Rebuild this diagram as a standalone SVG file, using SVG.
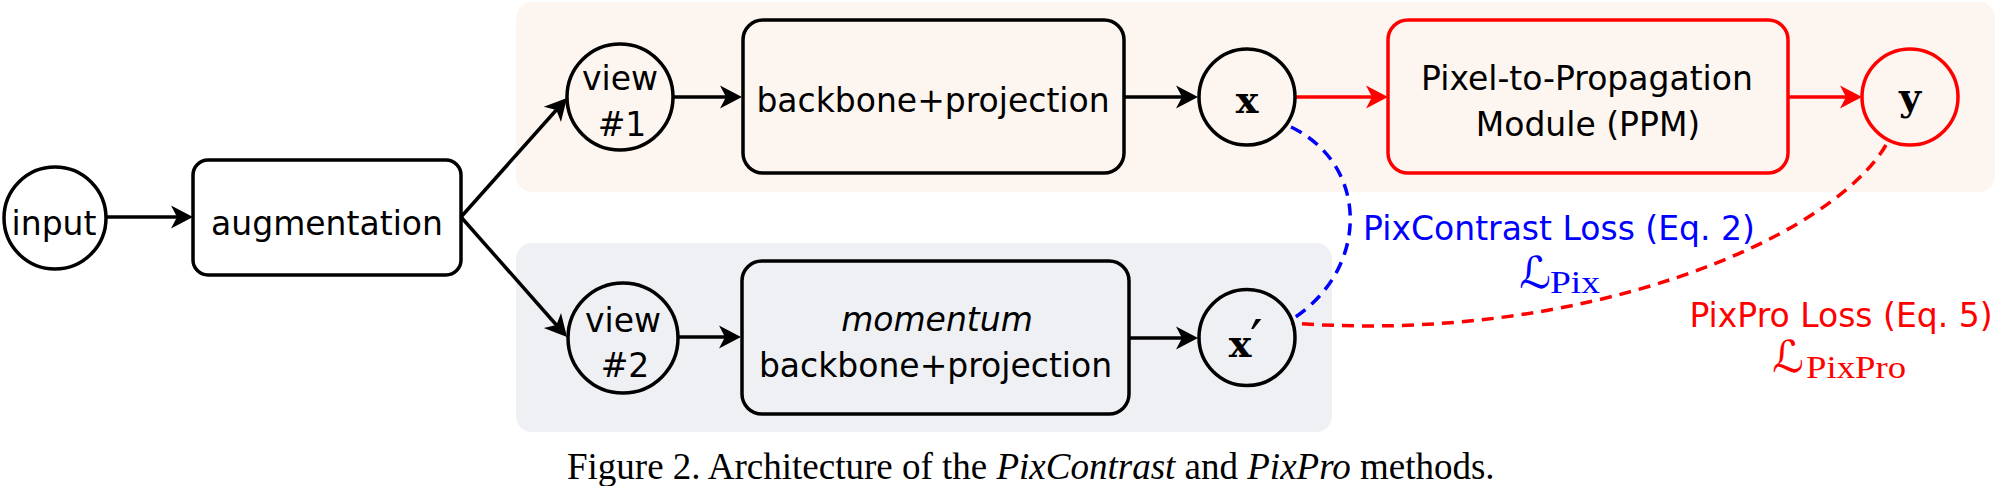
<svg xmlns="http://www.w3.org/2000/svg" width="2000" height="486" viewBox="0 0 2000 486">
<style>
.band-top{fill:#FDF5EF}
.band-bot{fill:#EFF0F4}
.nd{fill:none;stroke:#000;stroke-width:3.5}
.rd{stroke:#FF0000}
.lbl{font-family:"DejaVu Sans",sans-serif;font-size:33px;text-anchor:middle;fill:#000}
.math{font-family:"DejaVu Serif",serif;font-weight:bold;font-size:38px;text-anchor:middle;fill:#000}
.conn{fill:none;stroke:#000;stroke-width:3.5}
.cr{stroke:#FF0000}
.dash{fill:none;stroke-width:3.5;stroke-dasharray:12 8}
.cap{font-family:"Liberation Serif",serif;font-size:37px;fill:#000}
.scr{font-family:"DejaVu Sans",serif;font-size:44px;text-anchor:middle}
.sub{font-family:"Liberation Serif",serif;font-size:32px}
</style>
<defs>
<marker id="ah" markerUnits="userSpaceOnUse" markerWidth="24" markerHeight="26" viewBox="0 -13 24 26" refX="16" refY="0" orient="auto"><path d="M0,-11.5 L22,0 L0,11.5 L6,0 Z" fill="#000"/></marker>
<marker id="ahr" markerUnits="userSpaceOnUse" markerWidth="24" markerHeight="26" viewBox="0 -13 24 26" refX="16" refY="0" orient="auto"><path d="M0,-11.5 L22,0 L0,11.5 L6,0 Z" fill="#FF0000"/></marker>
</defs>
<rect x="0" y="0" width="2000" height="486" fill="#fff"/>
<rect class="band-top" x="516" y="2" width="1479" height="190" rx="16"/>
<rect class="band-bot" x="516" y="243" width="816" height="189" rx="16"/>

<g id="connectors">
<path class="conn" d="M106,217 L187,217" marker-end="url(#ah)"/>
<path class="conn" d="M461,217 L563,102.5" marker-end="url(#ah)"/>
<path class="conn" d="M461,217 L563,332.5" marker-end="url(#ah)"/>
<path class="conn" d="M673,97 L736,97" marker-end="url(#ah)"/>
<path class="conn" d="M1124,97 L1192,97" marker-end="url(#ah)"/>
<path class="conn cr" d="M1295,97 L1382,97" marker-end="url(#ahr)"/>
<path class="conn cr" d="M1788,97 L1856,97" marker-end="url(#ahr)"/>
<path class="conn" d="M679,337 L735,337" marker-end="url(#ah)"/>
<path class="conn" d="M1129,338 L1192,338" marker-end="url(#ah)"/>
<path class="dash" stroke="#0000FF" d="M1291,127 C1370,165 1370,270 1291,320"/>
<path class="dash" stroke="#FF0000" d="M1886,145 C1830,240 1580,345 1291,323"/>
</g>

<g id="input">
<circle class="nd" cx="55" cy="218" r="51"/>
<text class="lbl" x="54" y="235">input</text>
</g>
<g id="augmentation">
<rect class="nd" x="193" y="160" width="268" height="115" rx="15"/>
<text class="lbl" x="327" y="235">augmentation</text>
</g>
<g id="view1">
<circle class="nd" cx="620" cy="97" r="53"/>
<text class="lbl" x="620" y="90">view</text>
<text class="lbl" x="622" y="136">#1</text>
</g>
<g id="backbone">
<rect class="nd" x="743" y="20" width="381" height="153" rx="20"/>
<text class="lbl" x="933" y="112">backbone+projection</text>
</g>
<g id="x">
<circle class="nd" cx="1247" cy="97" r="48"/>
<text class="math" x="1247" y="113">x</text>
</g>
<g id="ppm">
<rect class="nd rd" x="1388" y="20" width="400" height="153" rx="20"/>
<text class="lbl" x="1587" y="90">Pixel-to-Propagation</text>
<text class="lbl" x="1588" y="136">Module (PPM)</text>
</g>
<g id="y">
<circle class="nd rd" cx="1910" cy="97" r="48"/>
<text class="math" x="1910" y="110">y</text>
</g>
<g id="view2">
<circle class="nd" cx="623" cy="338" r="55"/>
<text class="lbl" x="623" y="332">view</text>
<text class="lbl" x="625" y="377">#2</text>
</g>
<g id="momentum">
<rect class="nd" x="742" y="261" width="387" height="153" rx="20"/>
<text class="lbl" x="937" y="331" font-style="italic">momentum</text>
<text class="lbl" x="935.5" y="377">backbone+projection</text>
</g>
<g id="xprime">
<circle class="nd" cx="1247" cy="337.5" r="48"/>
<text class="math" x="1240" y="357">x</text>
<text x="1250" y="360" font-family="DejaVu Serif, serif" font-size="56" fill="#000">′</text>
</g>
<g id="pixcontrast-label">
<text class="lbl" x="1559" y="240" style="fill:#0000FF">PixContrast Loss (Eq. 2)</text>
<text class="scr" x="1535" y="288" fill="#0000FF">ℒ</text>
<text class="sub" x="1550" y="293" fill="#0000FF" textLength="50" lengthAdjust="spacingAndGlyphs">Pix</text>
</g>
<g id="pixpro-label">
<text class="lbl" x="1841" y="327" style="fill:#FF0000">PixPro Loss (Eq. 5)</text>
<text class="scr" x="1788" y="372" fill="#FF0000">ℒ</text>
<text class="sub" x="1806" y="378" fill="#FF0000" textLength="100" lengthAdjust="spacingAndGlyphs">PixPro</text>
</g>
<text class="cap" x="567" y="479">Figure 2. Architecture of the <tspan font-style="italic">PixContrast</tspan> and <tspan font-style="italic">PixPro</tspan> methods.</text>
</svg>
